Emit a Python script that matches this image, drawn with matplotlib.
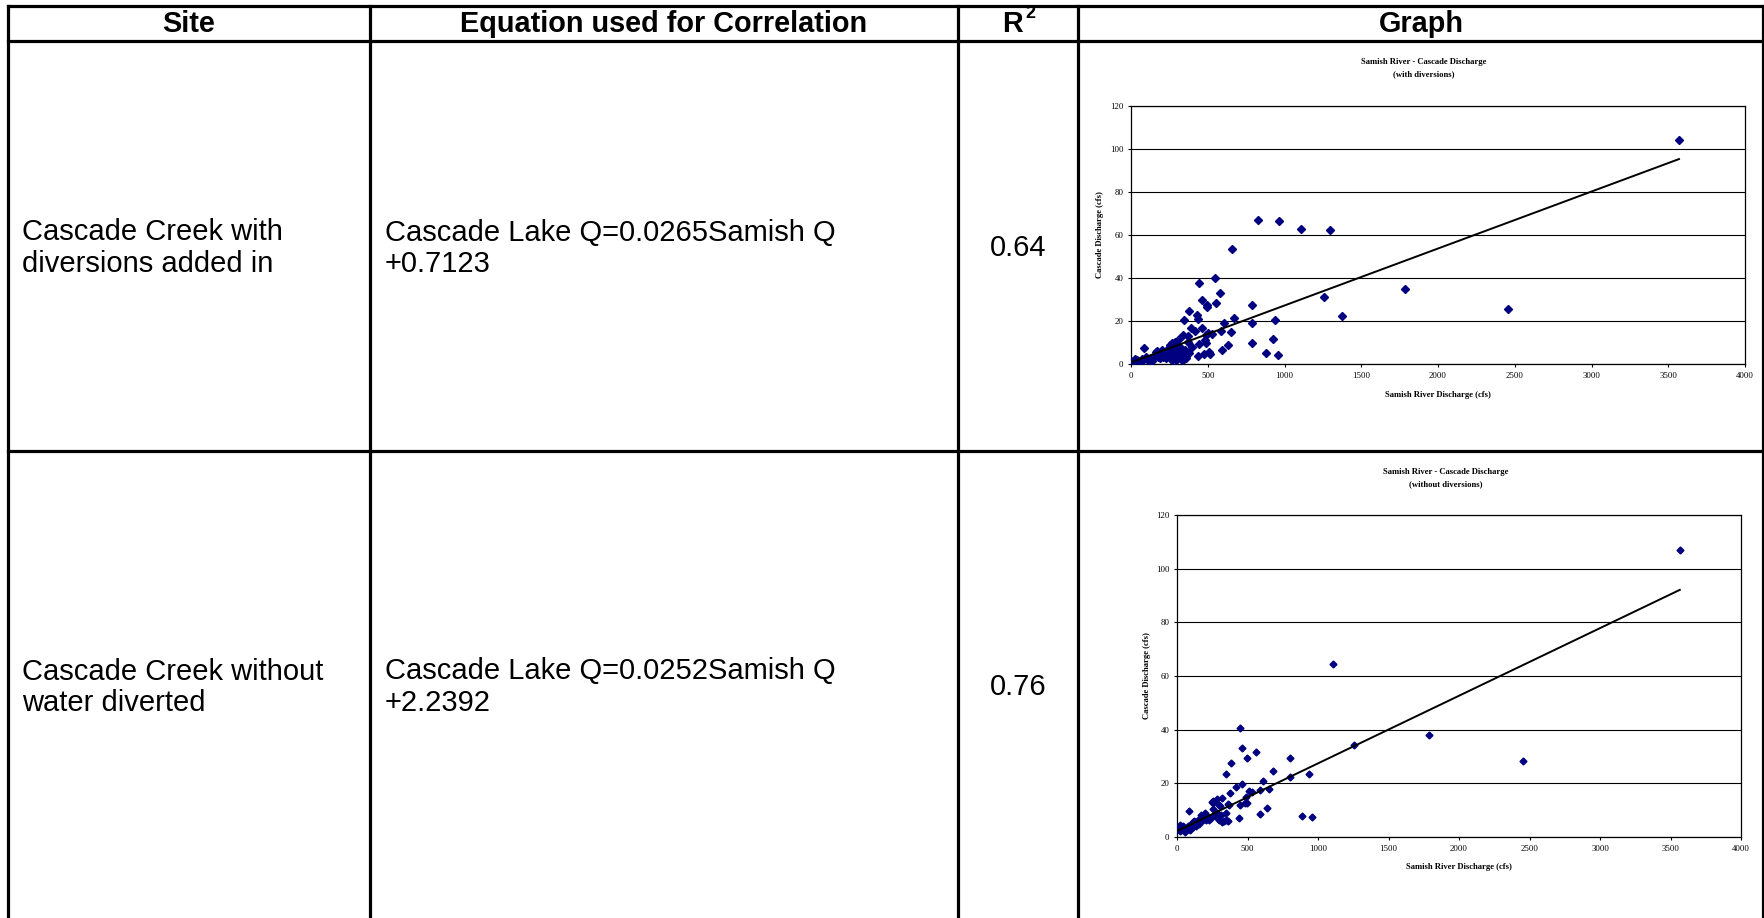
import matplotlib
matplotlib.use("Agg")
import matplotlib.pyplot as plt
import numpy as np

W, H = 1764, 918

# table content
headers = ["Site", "Equation used for Correlation", "R", "Graph"]
sites = [["Cascade Creek with", "diversions added in"],
         ["Cascade Creek without", "water diverted"]]
equations = [["Cascade Lake Q=0.0265Samish Q", "+0.7123"],
             ["Cascade Lake Q=0.0252Samish Q", "+2.2392"]]
r_squared = ["0.64", "0.76"]
subtitles = ["(with diversions)", "(without diversions)"]

# trend line coefficients (slope, intercept)
slopes = [0.0265, 0.0252]
intercepts = [0.7123, 2.2392]

# scatter values, with diversions
samish_q1 = [3570, 828, 967, 1106, 1296, 655, 548, 445, 582, 460, 556, 494, 496, 791,
             1257, 1784, 2457, 1376, 377, 343, 427, 439, 672, 604, 791, 936, 389, 460,
             417, 584, 650, 499, 491, 530, 340, 372, 925, 479, 488, 445, 369, 791, 635,
             397, 85, 590, 882, 959, 508, 513, 474, 434,
             15, 37, 59, 81, 103, 135, 146, 179, 190, 207, 223, 234, 255, 266, 277, 288,
             299, 310, 321, 332, 343, 354, 365, 375, 162, 201, 234, 288, 255, 266, 288,
             310, 288, 321, 168, 201, 300, 330, 345, 260, 230, 120, 50, 25, 70, 95, 140,
             175, 215, 245, 280, 310, 335, 355, 270, 290, 360]
cascade_q1 = [104, 67.2, 66.6, 62.6, 62.2, 53.6, 40.1, 37.8, 33.0, 29.9, 28.5, 27.6, 26.5,
              27.3, 31.1, 34.8, 25.4, 22.1, 24.6, 20.3, 22.6, 20.9, 21.4, 19.0, 19.0, 20.3,
              16.6, 16.7, 15.5, 15.2, 14.7, 14.2, 13.3, 13.8, 13.3, 13.2, 11.6, 11.0, 9.9,
              9.1, 10.1, 9.6, 8.8, 7.9, 7.3, 6.3, 5.0, 4.3, 5.6, 4.8, 4.8, 3.9,
              1.6, 1.9, 1.4, 1.9, 2.5, 1.6, 2.9, 3.4, 2.6, 3.4, 3.7, 4.5, 5.3, 4.2, 5.7,
              3.4, 5.0, 3.4, 4.2, 2.9, 3.4, 4.2, 5.0, 5.0, 5.4, 5.7, 6.5, 6.8, 8.8, 9.6,
              10.4, 11.5, 8.1, 8.1, 6.0, 6.4, 2.5, 1.8, 2.5, 2.2, 2.6, 1.2, 0.8, 2.2, 2.5,
              3.2, 3.0, 4.2, 5.0, 7.4, 7.5, 6.0, 5.6, 6.5, 1.8, 2.0, 3.0]

# scatter values, without diversions
samish_q2 = [3566, 1109, 449, 462, 558, 381, 499, 799, 1787, 2457, 1258, 344, 678, 939,
             607, 799, 462, 418, 651, 378, 589, 508, 530, 489, 322, 285, 257, 257, 307,
             369, 446, 480, 499, 638, 87, 592, 886, 960, 440,
             135, 170, 200, 228, 251, 258, 286, 298, 298, 321, 344, 349, 363, 181, 205,
             42, 30, 19, 65, 88, 112, 135, 158, 19, 7, 53, 77, 100, 120, 150, 190, 215,
             240, 270, 310, 330, 360, 60, 95, 110, 45]
cascade_q2 = [107.0, 64.5, 40.8, 33.1, 31.6, 27.7, 29.4, 29.4, 37.9, 28.4, 34.2, 23.5,
              24.6, 23.5, 21.0, 22.2, 19.7, 18.8, 18.0, 16.3, 17.5, 17.1, 16.7, 15.0,
              14.5, 14.0, 13.5, 12.5, 11.6, 12.1, 12.1, 12.8, 12.8, 10.9, 9.6, 8.5, 8.0,
              7.5, 6.9,
              5.6, 8.1, 9.0, 6.3, 13.1, 10.6, 8.8, 11.9, 6.3, 5.6, 6.3, 8.8, 12.3, 6.3,
              6.3, 2.5, 3.8, 4.4, 2.8, 3.1, 3.8, 4.1, 5.0, 2.3, 3.1, 3.4, 4.0, 4.8, 6.0,
              6.5, 7.5, 8.0, 7.0, 7.8, 8.3, 5.8, 6.0, 2.0, 2.6, 5.5, 4.2]

x_ticks = np.arange(0, 4001, 500)
y_ticks = np.arange(0, 121, 20)

sans = "Liberation Sans"
serif = "Liberation Serif"

fig = plt.figure(figsize=(W / 100, H / 100), dpi=100)
bg = fig.add_axes((0, 0, 1, 1))
bg.set_xlim(0, W)
bg.set_ylim(H, 0)
bg.set_axis_off()

# table grid
col_x = [8, 370, 958, 1078, 1763]
row_y = [6, 41, 451]
lw = 2.3
for y in row_y:
    bg.plot([col_x[0], col_x[-1]], [y, y], color="k", lw=lw, solid_capstyle="projecting")
for x in col_x:
    bg.plot([x, x], [row_y[0], H + 5], color="k", lw=lw, solid_capstyle="projecting")

# header
hdr_kw = dict(family=sans, weight="bold", size=20.8, ha="center", va="center")
bg.text(189, 24, headers[0], **hdr_kw)
bg.text(664, 24, headers[1], **hdr_kw)
bg.text(1012, 24, headers[2], **hdr_kw)
bg.text(1030, 13, "2", family=sans, weight="bold", size=13, ha="center", va="center")
bg.text(1421, 24, headers[3], **hdr_kw)

body_kw = dict(family=sans, size=21, va="center")
row_centers = [248, 687]
for i, yc in enumerate(row_centers):
    for j, line in enumerate(sites[i]):
        bg.text(22, yc - 15.5 + 31.5 * j, line, ha="left", **body_kw)
    for j, line in enumerate(equations[i]):
        bg.text(385, yc - 15.5 + 31.5 * j, line, ha="left", **body_kw)
    bg.text(1018, yc, r_squared[i], ha="center", **body_kw)

# graphs
boxes = [(1131, 1745, 106, 364), (1177, 1741, 515, 837)]
title_pos = [(1424, 62), (1446, 472)]
xlabel_y = [395, 867]
ylabel_x = [1100, 1147]
series = [(samish_q1, cascade_q1, 4.4), (samish_q2, cascade_q2, 3.5)]

for i, (l, r, t, b) in enumerate(boxes):
    ax = fig.add_axes((l / W, 1 - b / H, (r - l) / W, (b - t) / H))
    xs, ys, ms = series[i]
    ax.plot(xs, ys, "D", color="#000080", ms=ms, mec="#000080", ls="none", zorder=3)
    fit_x = np.array([min(xs), max(xs)])
    ax.plot(fit_x, slopes[i] * fit_x + intercepts[i], color="k", lw=1.4, zorder=4)
    ax.set_xlim(0, 4000)
    ax.set_ylim(0, 120)
    ax.set_xticks(x_ticks)
    ax.set_yticks(y_ticks)
    ax.grid(axis="y", color="k", lw=0.8)
    ax.set_axisbelow(True)
    ax.tick_params(labelsize=6.3, length=2.5, width=0.8, pad=3)
    for lab in ax.get_xticklabels() + ax.get_yticklabels():
        lab.set_family(serif)
    for sp in ax.spines.values():
        sp.set_linewidth(0.9)

    tx, ty = title_pos[i]
    bg.text(tx, ty, "Samish River - Cascade Discharge", family=serif, weight="bold",
            size=6.2, ha="center", va="center")
    bg.text(tx, ty + 12, subtitles[i], family=serif, weight="bold",
            size=6.2, ha="center", va="center")
    bg.text((l + r) / 2, xlabel_y[i], "Samish River Discharge (cfs)", family=serif,
            weight="bold", size=6.2, ha="center", va="center")
    bg.text(ylabel_x[i], (t + b) / 2, "Cascade Discharge (cfs)", family=serif,
            weight="bold", size=6.2, ha="center", va="center", rotation=90)

fig.savefig("out.png", dpi=100)
